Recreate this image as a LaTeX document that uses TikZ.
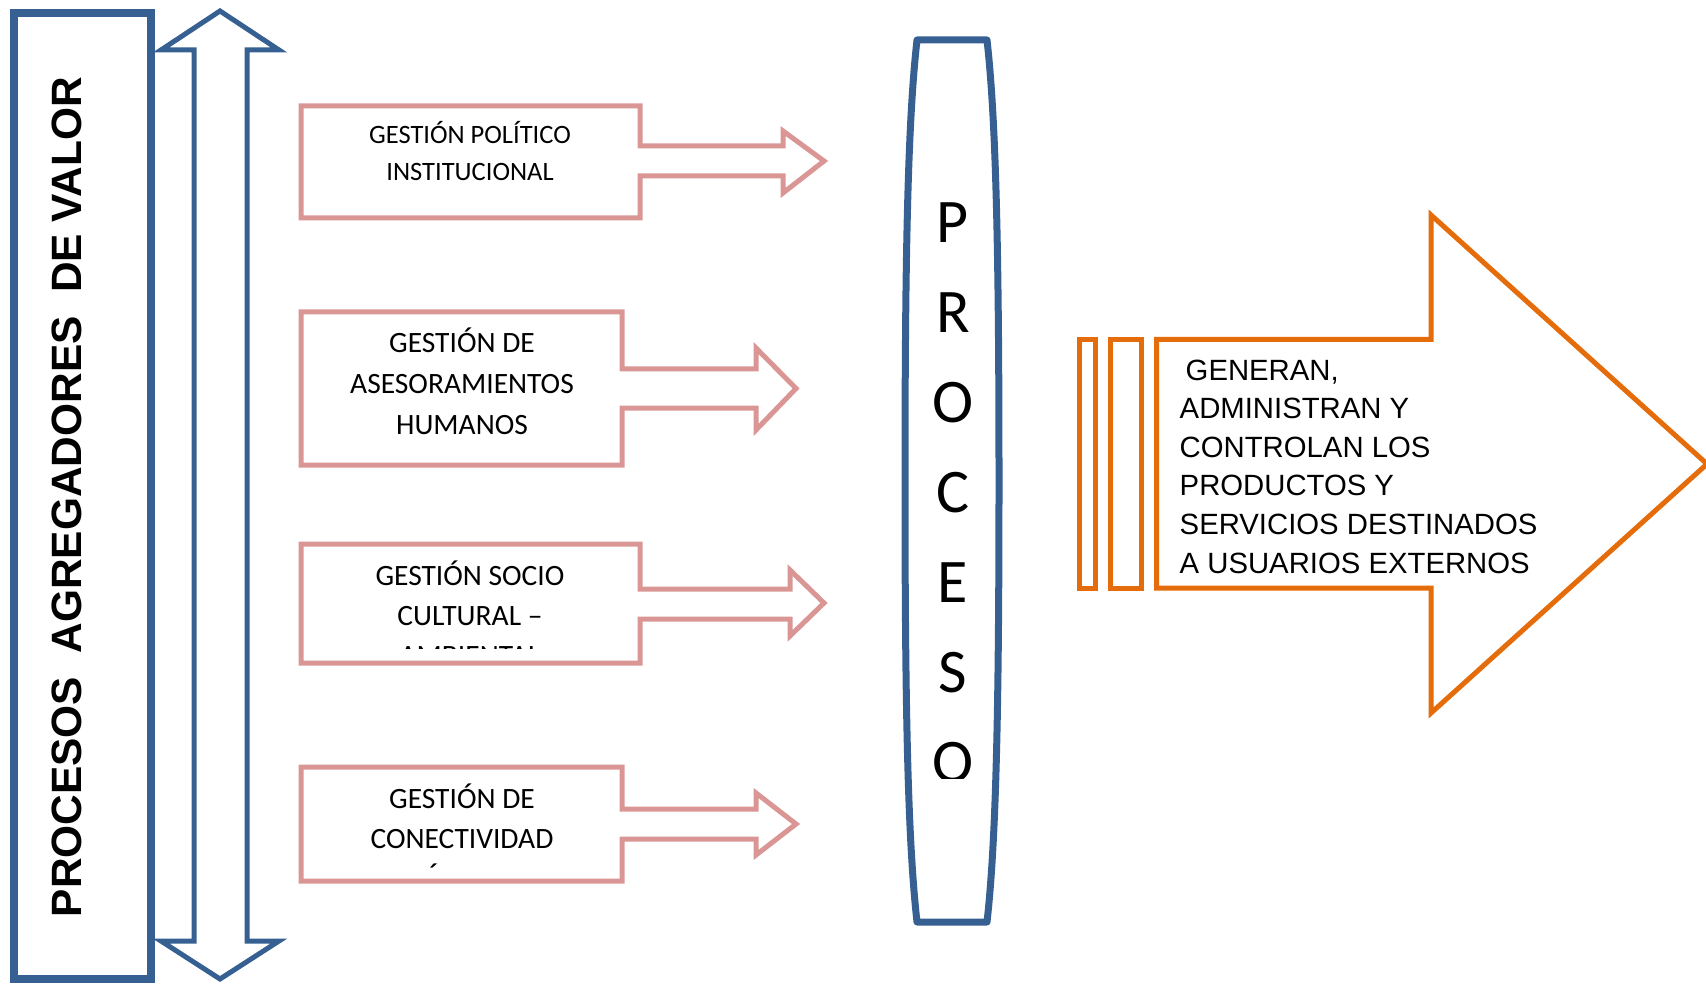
\documentclass[tikz,border=0pt]{standalone}
\usepackage{fontspec}
\newfontfamily\calib{Carlito}
\newfontfamily\arialfont{Liberation Sans}
\definecolor{frameblue}{RGB}{54,96,146}
\definecolor{rosebox}{RGB}{217,150,148}
\definecolor{outorange}{RGB}{228,108,10}

\begin{document}
\begin{tikzpicture}[x=1pt,y=-1pt,
  frameline/.style={draw=frameblue,line width=8pt,line join=miter},
  blueline/.style={draw=frameblue,line width=5pt,line join=miter},
  capsule/.style={draw=frameblue,line width=7pt,line join=round},
  rosearrow/.style={draw=rosebox,line width=5pt,line join=miter},
  orangeline/.style={draw=outorange,line width=5pt,line join=miter},
  % multi-line nodes: the base anchor sits on the baseline of the last line
  boxtext/.style={font=\calib\fontsize{29.5}{#1}\selectfont,align=center,anchor=base,inner sep=0pt},
  boxtext/.default=40,
  smallboxtext/.style={font=\calib\fontsize{26.5}{37}\selectfont,align=center,anchor=base,inner sep=0pt},
  procletters/.style={font=\calib\fontsize{62}{90}\selectfont,align=center,anchor=base,inner sep=0pt},
  sidetitle/.style={font=\arialfont\bfseries\fontsize{42.4}{50}\selectfont,rotate=90,anchor=base,inner sep=0pt},
  outtext/.style={font=\arialfont\fontsize{29.3}{38.6}\selectfont,align=left,anchor=base west,inner sep=0pt}
]
\useasboundingbox (0,0) rectangle (1706,984);

% left frame with vertical title
\draw[frameline] (14,13) rectangle (151,979);
\node[sidetitle] (title) at (81,497) {PROCESOS\ \ AGREGADORES\ \ DE VALOR};

% double-headed vertical arrow
\draw[blueline] (220,11) -- (279,50) -- (247,50) -- (247,941) -- (279,941)
  -- (220,979) -- (161,941) -- (194,941) -- (194,50) -- (161,50) -- cycle;

% management boxes with their arrows
\draw[rosearrow] (301,106) -- (640,106) -- (640,146) -- (783,146) -- (783,131)
  -- (824,161) -- (783,193) -- (783,176) -- (640,176) -- (640,218) -- (301,218) -- cycle;
\node[smallboxtext] (g1) at (470,180.5) {GESTIÓN POLÍTICO\\INSTITUCIONAL};

\draw[rosearrow] (301,312) -- (622,312) -- (622,369) -- (756,369) -- (756,348)
  -- (796,388.5) -- (756,430) -- (756,408) -- (622,408) -- (622,465) -- (301,465) -- cycle;
\node[boxtext=41] (g2) at (462,434.3) {GESTIÓN DE\\ASESORAMIENTOS\\HUMANOS};

\draw[rosearrow] (301,544) -- (640,544) -- (640,589) -- (790,589) -- (790,570)
  -- (824,603) -- (790,636) -- (790,619) -- (640,619) -- (640,663) -- (301,663) -- cycle;
\begin{scope}
  \clip (305,548) rectangle (636,648.3);
  \node[boxtext=40] (g3) at (470,665.3) {GESTIÓN SOCIO\\CULTURAL –\\AMBIENTAL};
\end{scope}

\draw[rosearrow] (301,767) -- (622,767) -- (622,809) -- (756,809) -- (756,793)
  -- (796,824) -- (756,855) -- (756,839) -- (622,839) -- (622,881) -- (301,881) -- cycle;
\begin{scope}
  \clip (305,771) rectangle (618,867.3);
  \node[boxtext=40] (g4) at (462,888.3) {GESTIÓN DE\\CONECTIVIDAD\\TÉCNICA};
\end{scope}

% central process capsule
\draw[capsule] (917,40) -- (987,40)
  .. controls (996,120) and (999,250) .. (999,481)
  .. controls (999,712) and (996,842) .. (987,922)
  -- (917,922)
  .. controls (908,842) and (905,712) .. (905,481)
  .. controls (905,250) and (908,120) .. (917,40) -- cycle;
\begin{scope}
  \clip (908,44) rectangle (996,778);
  \node[procletters] (proc) at (953,782) {P\\R\\O\\C\\E\\S\\O};
\end{scope}

% output arrow with striped tail
\draw[orangeline] (1079.5,339.5) rectangle (1095.5,588);
\draw[orangeline] (1110.5,339.5) rectangle (1141.5,588);
\draw[orangeline] (1156.5,339.5) -- (1431,339.5) -- (1431,215) -- (1707,464)
  -- (1431,713) -- (1431,588) -- (1156.5,588) -- cycle;
\node[outtext] (out) at (1179.5,573) {\hspace{6pt}GENERAN,\\ADMINISTRAN Y\\CONTROLAN LOS\\PRODUCTOS Y\\SERVICIOS DESTINADOS\\A USUARIOS EXTERNOS};
\end{tikzpicture}
\end{document}
